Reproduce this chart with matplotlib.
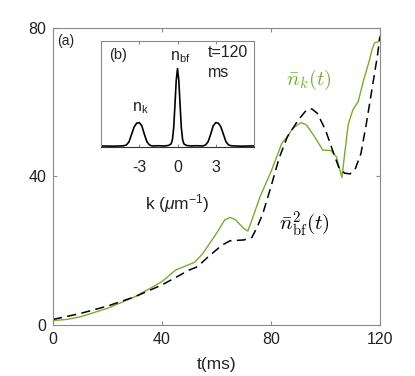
import matplotlib
matplotlib.use("Agg")
import matplotlib.pyplot as plt
import numpy as np

plt.rcParams['font.family'] = ['Liberation Sans', 'DejaVu Sans']
plt.rcParams['mathtext.fontset'] = 'custom'
plt.rcParams['mathtext.rm'] = 'Liberation Sans'
plt.rcParams['mathtext.it'] = 'Liberation Sans:italic'

# main panel (a): time in ms, occupation numbers
t_k = [0, 5, 10, 20, 30, 35, 40, 45, 50, 52, 55, 60, 63, 65, 67, 70, 71.5,
       73, 76, 80, 84, 86, 88, 91, 93, 96, 99, 102, 104, 106, 108.3, 110,
       112, 114, 116, 117, 118, 119.5, 120]
n_k = [1.2, 1.5, 2.2, 4.5, 7.6, 9.6, 11.7, 14.8, 16.3, 16.9, 19.3, 24.7,
       28.3, 29.0, 28.3, 26.0, 25.3, 28.3, 34.6, 41.3, 49.0, 50.7, 53.0,
       54.5, 53.9, 50.7, 47.1, 47.0, 45.3, 39.7, 53.9, 57.9, 60.2, 66.0,
       71.0, 74.0, 76.0, 76.3, 77.8]

t_bf = [0, 10, 20, 30, 40, 50, 53, 57, 62, 65, 70, 73, 75, 77, 80, 83, 86,
        90, 93, 95, 97, 100, 103, 105, 107, 109, 111, 113, 115, 117, 119, 120]
n_bf2 = [1.5, 3.1, 5.1, 7.6, 10.8, 14.8, 15.7, 18.4, 21.5, 22.7, 22.9, 23.6,
         26.5, 30.0, 37.3, 45.0, 50.7, 55.2, 57.9, 58.2, 57.0, 52.5, 46.2,
         42.2, 40.9, 40.7, 42.2, 46.2, 54.3, 63.3, 72.3, 77.7]

# inset (b): momentum distribution at t=120 ms
k_vals = [-6, -5, -4.5, -4.2, -4.0, -3.8, -3.6, -3.4, -3.2, -3.0, -2.8, -2.6,
          -2.4, -2.2, -2.0, -1.5, -1.0, -0.7, -0.5, -0.4, -0.3, -0.2, -0.1, 0,
          0.1, 0.2, 0.3, 0.4, 0.5, 0.7, 1.0, 1.5, 2.0, 2.2, 2.4, 2.6, 2.8,
          3.0, 3.2, 3.4, 3.6, 3.8, 4.0, 4.2, 4.5, 5, 6]
n_vals = [0.01, 0.008, 0.01, 0.012, 0.02, 0.05, 0.12, 0.19, 0.225, 0.23,
          0.2, 0.12, 0.05, 0.02, 0.01, 0.012, 0.01, 0.015, 0.03, 0.07, 0.18,
          0.4, 0.63, 0.74, 0.63, 0.4, 0.18, 0.07, 0.03, 0.015, 0.01, 0.012,
          0.01, 0.02, 0.05, 0.12, 0.2, 0.23, 0.225, 0.19, 0.12, 0.05, 0.02,
          0.012, 0.01, 0.008, 0.01]

green = '#77AC30'
spine_col = '#8a8a8a'
txt = '#222222'

fig = plt.figure(figsize=(4.15, 3.76), dpi=100)
ax = fig.add_axes([0.1277, 0.1356, 0.788, 0.79])
ax.plot(t_k, n_k, color=green, lw=1.0)
ax.plot(t_bf, n_bf2, color='black', lw=1.1, dashes=(6, 3.5))
ax.set_xlim(0, 120)
ax.set_ylim(0, 80)
ax.set_xticks([0, 40, 80, 120])
ax.set_yticks([0, 40, 80])
ax.tick_params(direction='in', top=True, right=True, labelsize=11.5,
               length=3, color=spine_col, labelcolor=txt, pad=5)
for s in ax.spines.values():
    s.set_color(spine_col)
    s.set_linewidth(0.8)
ax.set_xlabel('t(ms)', fontsize=12.5, color=txt, labelpad=7)

ax.text(0.012, 0.955, '(a)', transform=ax.transAxes, fontsize=10,
        ha='left', va='center', color=txt)
ax.text(0.783, 0.824, r'$\bar{n}_k(t)$', transform=ax.transAxes,
        fontsize=15, color=green, ha='center', va='center',
        math_fontfamily='cm')
ax.text(0.768, 0.342, r'$\bar{n}_{\rm bf}^2(t)$', transform=ax.transAxes,
        fontsize=15, color='black', ha='center', va='center',
        math_fontfamily='cm')

# inset
axi = fig.add_axes([0.2434, 0.609, 0.3687, 0.282])
axi.plot(k_vals, n_vals, color='black', lw=1.2)
axi.set_xlim(-6, 6)
axi.set_ylim(0, 1)
axi.set_xticks([-3, 0, 3])
axi.set_xticklabels(['-3', '0', '3'])
axi.set_yticks([])
axi.tick_params(direction='in', top=True, labelsize=11.5, length=2.5,
                color=spine_col, labelcolor=txt, pad=9)
for s in axi.spines.values():
    s.set_color(spine_col)
    s.set_linewidth(0.8)
axi.spines['bottom'].set_color('#333333')
axi.set_xlabel(r'k ($\mu$m$^{-1}$)', fontsize=12.5, color=txt,
               labelpad=13)
axi.text(-4.66, 0.87, '(b)', fontsize=10.5, ha='center', va='center',
         color=txt)
axi.text(0.25, 0.85, r'n$_{\rm bf}$', fontsize=11.5, ha='center',
         va='center', color=txt)
axi.text(2.4, 0.89, 't=120', fontsize=11.5, ha='left', va='center',
         color=txt)
axi.text(2.4, 0.7, 'ms', fontsize=11.5, ha='left', va='center', color=txt)
axi.text(-2.95, 0.37, r'n$_{\rm k}$', fontsize=11.5, ha='center',
         va='center', color=txt)

fig.savefig('out.png', dpi=100)
